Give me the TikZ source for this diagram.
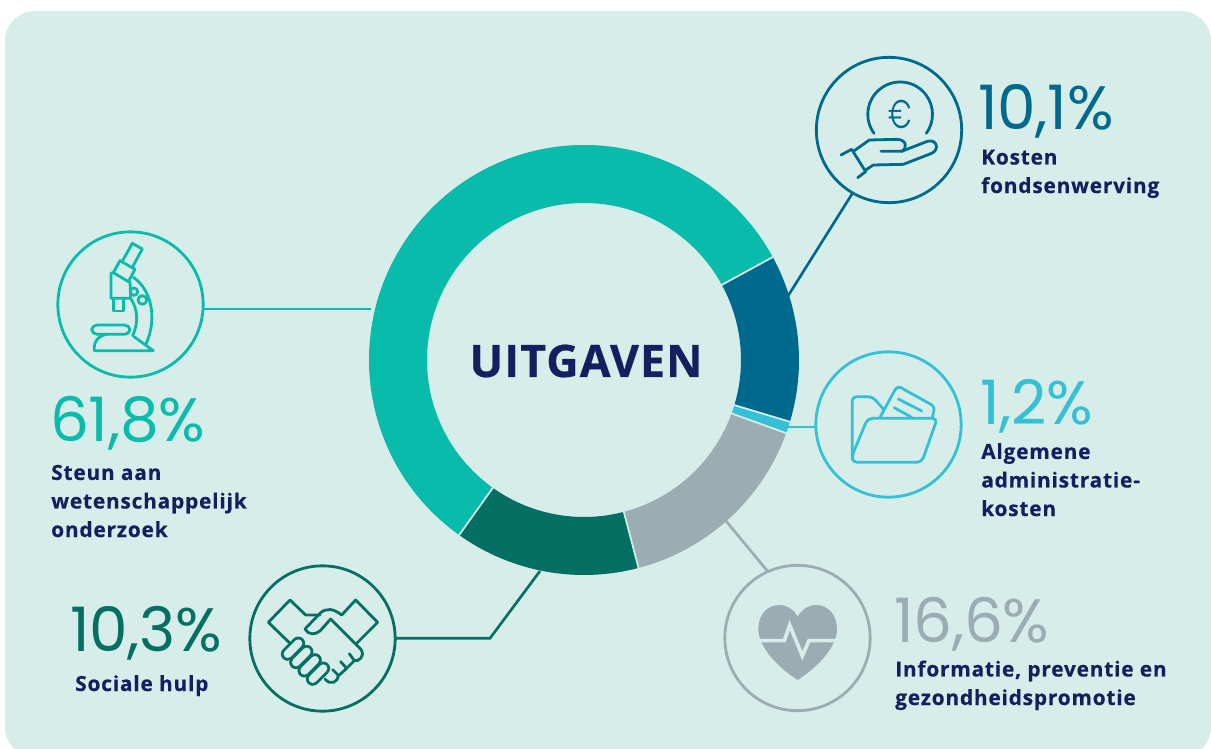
\documentclass[tikz,border=0pt]{standalone}
\usepackage{fontspec}
\setmainfont{Fira Sans}
\newfontfamily\lblfont{Open Sans Bold}[FakeBold=0.5,LetterSpace=4]
\newfontfamily\numfont{Poppins}[LetterSpace=-0.5]
\newfontfamily\eurfont{Poppins Light}
\newfontfamily\titfont{Open Sans Bold}[FakeBold=0.5,LetterSpace=2.5]
\usetikzlibrary{calc}
\definecolor{bgc}{HTML}{D7EDE9}
\definecolor{navy}{HTML}{13205F}
\definecolor{teal1}{HTML}{08BBAA}
\definecolor{blue1}{HTML}{006A8E}
\definecolor{cyan1}{HTML}{35C0D6}
\definecolor{gray1}{HTML}{9BACB3}
\definecolor{green1}{HTML}{056F64}
\tikzset{
  ring/.style={circle,draw,line width=2.1pt,minimum size=109pt,inner sep=0pt,outer sep=0pt},
  icon/.style={line width=2.1pt,line cap=round,line join=round},
  link/.style={line width=2pt},
  pct/.style={inner sep=0pt,anchor=base west,font=\numfont\fontsize{46}{46}\selectfont},
  lbl/.style={inner sep=0pt,anchor=base west,align=left,text=navy,font=\lblfont\fontsize{15.6}{21.4}\selectfont},
  zoomed/.style={x=0.25pt,y=-0.25pt},
}
\newcommand{\donutseg}[3]{\fill[#3] ($(584,360)+(#1:215)$) arc[start angle=#1,end angle=#2,radius=215] -- ($(584,360)+(#2:157)$) arc[start angle=#2,end angle=#1,radius=157] -- cycle;}
\newcommand{\donutgap}[1]{\draw[bgc,line width=1.3pt] ($(584,360)+(#1:155)$) -- ($(584,360)+(#1:217)$);}
\newcommand{\capsule}[4]{\draw[green1,line width=10.2pt,line cap=round] (#1,#2) -- (#3,#4); \draw[bgc,line width=6pt,line cap=round] (#1,#2) -- (#3,#4);}
\begin{document}
\begin{tikzpicture}[x=0.75pt,y=-0.75pt]
\useasboundingbox (0,0) rectangle (1211,749);
\fill[bgc,rounded corners=22.5pt] (5,11) rectangle (1211,757);
% donut
\donutseg{125.5}{331.4}{teal1}
\donutseg{-28.6}{16.7}{blue1}
\donutseg{16.7}{19.9}{cyan1}
\donutseg{19.9}{75.3}{gray1}
\donutseg{75.3}{125.5}{green1}
\donutgap{-28.6}\donutgap{16.7}\donutgap{19.9}\donutgap{75.3}\donutgap{125.5}
\node[inner sep=0pt,text=navy,font=\titfont\fontsize{33.5}{33.5}\selectfont] (title) at (586,361) {UITGAVEN};
% rings
\node[ring,draw=teal1]  (rm) at (130.5,304.5) {};
\node[ring,draw=blue1]  (rb) at (889,130) {};
\node[ring,draw=cyan1]  (rc) at (888.5,424.5) {};
\node[ring,draw=green1] (rh) at (322.5,638.5) {};
\node[ring,draw=gray1]  (rg) at (797.5,638) {};
% connector anchors on the donut
\coordinate (dm) at (371,309);
\coordinate (db) at (788,296);
\coordinate (dc) at (787,427);
\coordinate (dg) at (726,521);
\coordinate (dh) at (540,571);
\coordinate (kh) at (490,638.3);
\draw[link,teal1] (dm) -- (dm -| rm.east);
\draw[link,blue1] (db) -- (rb.-120);
\draw[link,cyan1] (dc) -- (dc -| rc.west);
\draw[link,gray1] (dg) -- (rg.114.6);
\draw[link,green1] (dh) -- (kh) -- (rh.east |- kh);
% euro icon
\begin{scope}[shift={(800,40)},zoomed]
\draw[icon,blue1] (222,280) arc[start angle=144,end angle=396,radius=97];
\draw[icon,blue1] (123,345) -- (155,328) -- (197,395) -- (173,413);
\draw[icon,blue1] (163,332) -- (208,300) -- (290,298) .. controls (318,298) and (325,322) .. (305,334) -- (243,334);
\draw[icon,blue1] (305,334) -- (382,304) .. controls (410,296) and (420,328) .. (395,340) -- (310,373) -- (220,375) -- (197,390);
\node[inner sep=0pt,xscale=0.72,text=blue1,font=\eurfont\fontsize{30}{30}\selectfont] (eur) at (301,222) {€};
\end{scope}
% microscope
\begin{scope}[shift={(40,220)},zoomed,teal1]
\draw[icon] (248,122) -- (277,70) -- (307,87) -- (278,140);
\draw[icon] (240,122) -- (285,148) -- (265,185) -- (220,158) -- cycle;
\draw[icon] (220,158) -- (213,160) -- (213,235) -- (272,235) -- (270,185);
\draw[icon] (220,235) -- (220,273) -- (250,273) -- (250,235);
\draw[icon] (280,172) .. controls (330,205) and (355,290) .. (318,372);
\draw[icon] (272,235) .. controls (295,270) and (295,310) .. (278,347);
\draw[icon,fill=bgc] (282,215) circle[radius=11];
\draw[icon,fill=bgc] (307,240) circle[radius=13];
\draw[icon,rounded corners=4pt] (155,315) rectangle (270,343);
\draw[icon] (282,350) -- (340,392) -- (163,392) .. controls (160,365) and (175,347) .. (200,343);
\end{scope}
% folder
\begin{scope}[shift={(800,340)},zoomed,cyan1]
\draw[icon,rounded corners=3pt] (157,350) -- (157,170) -- (217,170) -- (250,207);
\draw[icon,rounded corners=3pt] (240,232) -- (292,137) -- (405,200) -- (397,232);
\draw[icon] (295,177) -- (365,213);
\draw[icon] (283,203) -- (335,232);
\draw[icon,rounded corners=3.5pt] (203,235) -- (412,235) -- (365,367) -- (157,367) -- (157,345) -- cycle;
\end{scope}
% handshake
\begin{scope}[shift={(240,555)},zoomed,green1]
\draw[icon] (150,265) -- (85,202) -- (150,135) -- (197,180) -- (240,180);
\draw[icon] (350,265) -- (413,202) -- (347,135) -- (305,180) .. controls (280,160) and (258,158) .. (240,175) -- (195,222) .. controls (205,240) and (225,240) .. (240,228) -- (272,192) -- (362,282) .. controls (378,305) and (355,320) .. (343,317) -- (328,296);
\draw[icon] (343,317) -- (320,340) -- (302,320);
\draw[icon] (320,340) -- (296,362) -- (278,344);
\draw[icon] (294,360) .. controls (296,382) and (270,392) .. (255,372);
\capsule{175}{265}{143}{297}
\capsule{200}{290}{168}{322}
\capsule{225}{315}{193}{347}
\capsule{250}{340}{218}{372}
\end{scope}
% heart
\begin{scope}[shift={(715,555)},zoomed]
\fill[gray1] (248,185) .. controls (262,162) and (280,150) .. (303,150) .. controls (340,150) and (366,180) .. (366,222) .. controls (366,275) and (310,335) .. (248,375) .. controls (186,335) and (130,275) .. (130,222) .. controls (130,180) and (156,150) .. (193,150) .. controls (216,150) and (234,162) .. (248,185) -- cycle;
\draw[bgc,line width=2.7pt,miter limit=10] (122,257) -- (208,257) -- (224,210) -- (262,303) -- (282,257) -- (374,257);
\end{scope}
% texts
\node[pct,text=teal1]  (p1) at (50,441)  {61,8\%};
\node[pct,text=blue1]  (p2) at (978,130) {10,1\%};
\node[pct,text=cyan1]  (p3) at (980,424) {1,2\%};
\node[pct,text=green1] (p4) at (70,651)  {10,3\%};
\node[pct,text=gray1]  (p5) at (894,642) {16,6\%};
\node[lbl] (l1) at (51,537)  {Steun aan\\wetenschappelijk\\onderzoek};
\node[lbl] (l2) at (981,193) {Kosten\\fondsenwerving};
\node[lbl] (l3) at (981,516) {Algemene\\administratie-\\kosten};
\node[lbl] (l4) at (75,691)  {Sociale hulp};
\node[lbl] (l5) at (895,705) {Informatie, preventie en\\gezondheidspromotie};
\end{tikzpicture}
\end{document}
